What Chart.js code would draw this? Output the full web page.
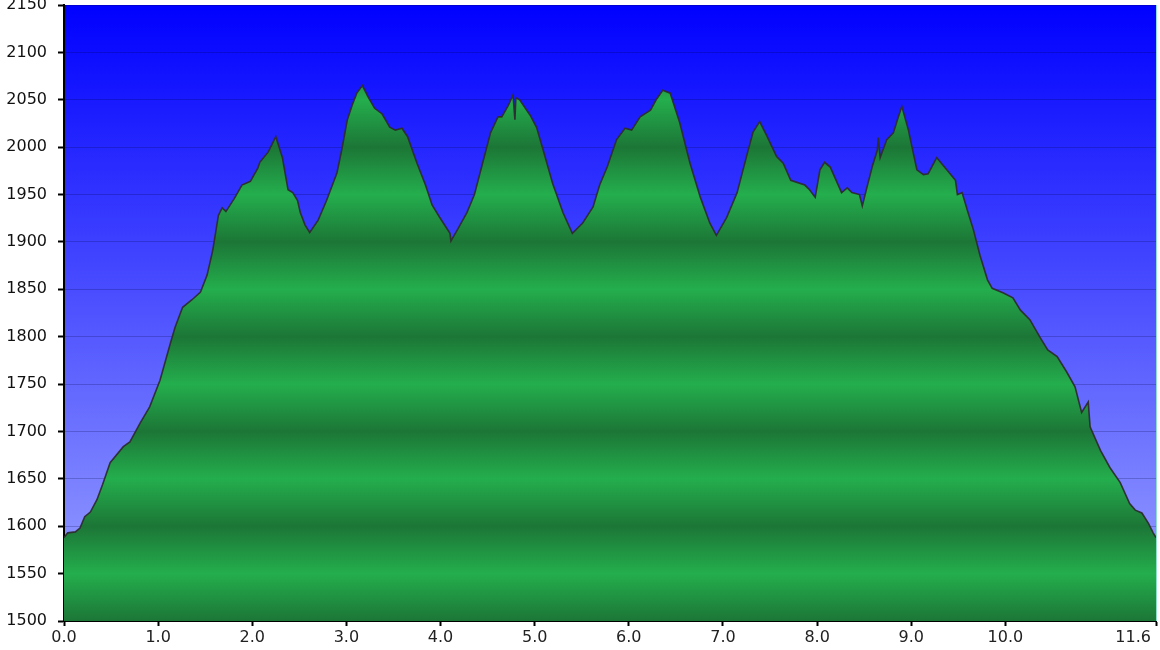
<!DOCTYPE html>
<html>
<head>
<meta charset="utf-8">
<script src="https://cdn.jsdelivr.net/npm/chart.js@4/dist/chart.umd.min.js"></script>
<style>
    body { margin: 0; background: #fff; }
    #chartDiv { width: 1160px; height: 650px; }
</style>
</head>
<body>
<div id="chartDiv"><canvas id="profile"></canvas></div>
<script>
// distance along the track (km) and elevation (m)
const distKm = [
    0.00, 0.04, 0.12, 0.17, 0.22, 0.28, 0.35, 0.41, 0.49, 0.63,
    0.70, 0.81, 0.91, 1.02, 1.13, 1.18, 1.26, 1.36, 1.45, 1.52,
    1.58, 1.64, 1.68, 1.72, 1.81, 1.89, 1.98, 2.06, 2.08, 2.17,
    2.25, 2.32, 2.38, 2.43, 2.48, 2.51, 2.56, 2.61, 2.70, 2.79,
    2.90, 2.95, 3.01, 3.06, 3.11, 3.17, 3.23, 3.30, 3.38, 3.46,
    3.52, 3.59, 3.65, 3.75, 3.84, 3.91, 3.99, 4.10, 4.11, 4.18,
    4.28, 4.36, 4.42, 4.53, 4.61, 4.65, 4.72, 4.77, 4.79, 4.80,
    4.84, 4.95, 5.02, 5.09, 5.19, 5.30, 5.40, 5.51, 5.62, 5.69,
    5.77, 5.87, 5.96, 6.03, 6.12, 6.23, 6.29, 6.36, 6.44, 6.54,
    6.65, 6.76, 6.86, 6.93, 7.04, 7.15, 7.26, 7.32, 7.39, 7.47,
    7.57, 7.64, 7.72, 7.87, 7.92, 7.98, 8.03, 8.08, 8.14, 8.26,
    8.32, 8.37, 8.45, 8.48, 8.53, 8.59, 8.64, 8.65, 8.67, 8.74,
    8.81, 8.86, 8.90, 8.97, 9.06, 9.13, 9.18, 9.27, 9.38, 9.47,
    9.49, 9.54, 9.60, 9.66, 9.73, 9.81, 9.86, 9.98, 10.08, 10.16,
    10.26, 10.37, 10.45, 10.55, 10.65, 10.74, 10.81, 10.88, 10.90, 11.01,
    11.11, 11.22, 11.32, 11.38, 11.45, 11.52, 11.57, 11.60
];
const elevation = [
    1588, 1593, 1594, 1598, 1610, 1615, 1628, 1644, 1667, 1684,
    1689, 1709, 1726, 1754, 1793, 1810, 1831, 1839, 1847, 1865,
    1891, 1928, 1936, 1932, 1946, 1960, 1964, 1978, 1984, 1995,
    2011, 1989, 1955, 1952, 1944, 1931, 1918, 1910, 1923, 1944,
    1973, 1997, 2029, 2044, 2057, 2065, 2053, 2041, 2035, 2021,
    2018, 2020, 2011, 1983, 1960, 1939, 1926, 1909, 1901, 1913,
    1931, 1950, 1973, 2015, 2032, 2032, 2044, 2055, 2029, 2052,
    2050, 2034, 2021, 1997, 1962, 1931, 1909, 1920, 1937, 1960,
    1979, 2008, 2020, 2018, 2032, 2039, 2050, 2060, 2057, 2026,
    1983, 1947, 1920, 1907, 1926, 1952, 1994, 2016, 2027, 2011,
    1990, 1983, 1965, 1960, 1955, 1947, 1976, 1984, 1979, 1952,
    1957, 1952, 1950, 1938, 1958, 1981, 1997, 2010, 1989, 2008,
    2015, 2031, 2043, 2018, 1976, 1971, 1972, 1989, 1976, 1965,
    1950, 1952, 1932, 1913, 1886, 1860, 1851, 1846, 1841, 1828,
    1818, 1799, 1786, 1779, 1763, 1747, 1720, 1731, 1705, 1680,
    1662, 1646, 1624, 1617, 1614, 1603, 1593, 1588
];
const xTicks = [0, 1, 2, 3, 4, 5, 6, 7, 8, 9, 10, 11.6];
const yMin = 1500;
const yMax = 2150;
const yStep = 50;

// blue sky behind the plot area
const skyPlugin = {
    id: 'sky',
    beforeDraw(chart) {
        const { ctx, chartArea } = chart;
        let g = ctx.createLinearGradient(0, chartArea.top, 0, chartArea.bottom);
        g.addColorStop(0, 'rgb(0,0,255)');
        g.addColorStop(1, 'rgb(158,166,255)');
        ctx.save();
        ctx.fillStyle = g;
        ctx.fillRect(chartArea.left, chartArea.top, chartArea.right - chartArea.left, chartArea.bottom - chartArea.top);
        ctx.restore();
    },
    afterDraw(chart) {
        const { ctx, chartArea } = chart;
        ctx.save();
        ctx.strokeStyle = '#8fe0c8';
        ctx.lineWidth = 1;
        ctx.beginPath();
        ctx.moveTo(chartArea.right + 0.5, chartArea.top);
        ctx.lineTo(chartArea.right + 0.5, chartArea.bottom);
        ctx.stroke();
        ctx.restore();
    }
};

// green fill, darker on every hundred, lighter on every fifty
function bandedGreen(context) {
    const chart = context.chart;
    const area = chart.chartArea;
    if (!area) return '#22a048';
    let g = chart.ctx.createLinearGradient(0, area.bottom, 0, area.top);
    for (let v = yMin; v <= yMax; v += yStep) {
        let stop = (v - yMin) / (yMax - yMin);
        g.addColorStop(stop, v % 100 === 0 ? 'rgb(28,118,54)' : 'rgb(36,174,77)');
    }
    return g;
}

window.onload = function () {
    let points = distKm.map((d, i) => ({ x: d, y: elevation[i] }));
    let ctx = document.getElementById('profile').getContext('2d');

    new Chart(ctx, {
        type: 'line',
        data: {
            datasets: [{
                data: points,
                borderColor: 'rgba(45,45,45,0.95)',
                borderWidth: 1.6,
                backgroundColor: bandedGreen,
                fill: 'start',
                pointRadius: 0,
                tension: 0
            }]
        },
        options: {
            responsive: true,
            maintainAspectRatio: false,
            animation: false,
            layout: { padding: { top: 5, right: 4, left: 0, bottom: 0 } },
            plugins: {
                legend: { display: false },
                tooltip: { enabled: false }
            },
            scales: {
                x: {
                    type: 'linear',
                    min: 0,
                    max: 11.6,
                    afterBuildTicks: (axis) => {
                        axis.ticks = xTicks.map(v => ({ value: v }));
                    },
                    afterFit: (axis) => {
                        axis.height = 29;
                        axis.paddingLeft = 0;
                        axis.paddingRight = 0;
                    },
                    ticks: {
                        autoSkip: false,
                        maxRotation: 0,
                        padding: 2,
                        color: '#222',
                        font: { family: 'DejaVu Sans', size: 16 },
                        // last label sits left of its tick, like the original
                        callback: (v) => v === 11.6 ? '11.6         ' : Number(v).toFixed(1)
                    },
                    grid: {
                        drawOnChartArea: false,
                        tickLength: 5,
                        tickColor: '#000',
                        tickWidth: 2
                    },
                    border: { color: '#000', width: 2 }
                },
                y: {
                    min: yMin,
                    max: yMax,
                    afterFit: (axis) => {
                        axis.width = 64;
                        axis.paddingTop = 0;
                        axis.paddingBottom = 0;
                    },
                    ticks: {
                        stepSize: yStep,
                        padding: 11,
                        color: '#111',
                        font: { family: 'DejaVu Sans', size: 16 },
                        callback: (v) => String(v)
                    },
                    grid: {
                        color: 'rgba(0,0,60,0.22)',
                        lineWidth: 1,
                        tickLength: 6,
                        tickColor: '#000',
                        tickWidth: 2
                    },
                    border: { color: '#000', width: 2 }
                }
            }
        },
        plugins: [skyPlugin]
    });
}
</script>
</body>
</html>
